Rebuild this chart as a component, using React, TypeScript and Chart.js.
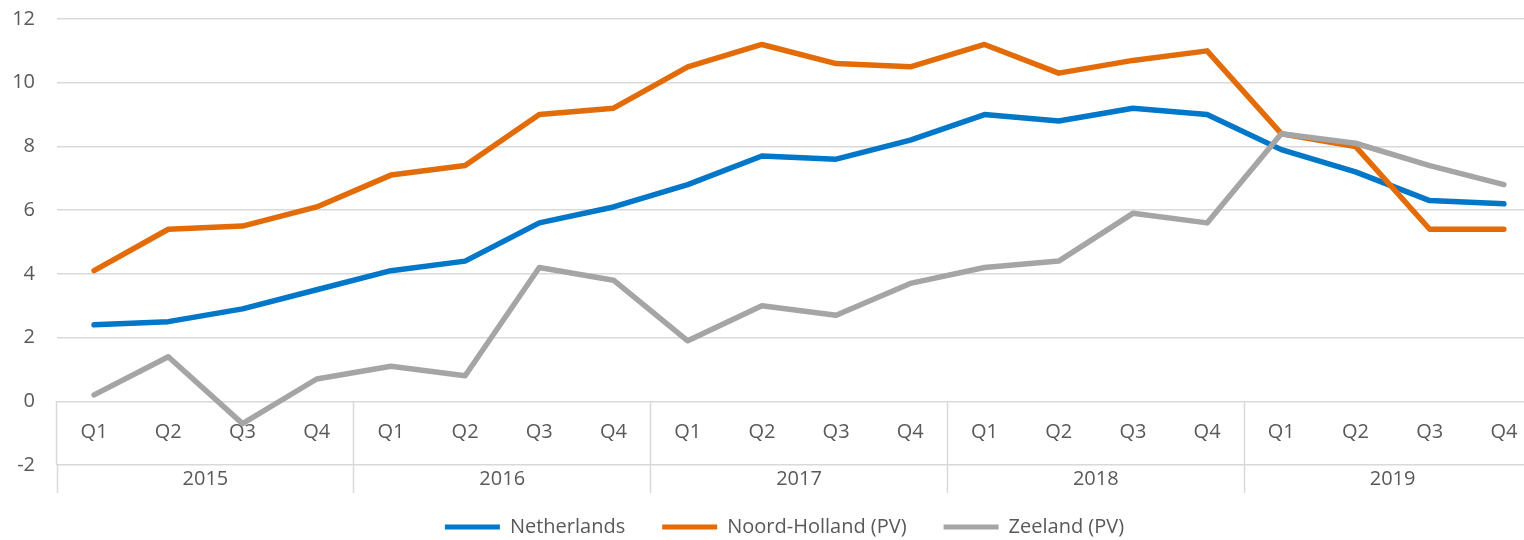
import React, { useEffect, useRef } from 'react';
import { Chart, registerables } from 'chart.js';

Chart.register(...registerables);

const quarters = [
  'Q1', 'Q2', 'Q3', 'Q4',
  'Q1', 'Q2', 'Q3', 'Q4',
  'Q1', 'Q2', 'Q3', 'Q4',
  'Q1', 'Q2', 'Q3', 'Q4',
  'Q1', 'Q2', 'Q3', 'Q4',
];
const years = ['2015', '2016', '2017', '2018', '2019'];

const netherlands = [2.4, 2.5, 2.9, 3.5, 4.1, 4.4, 5.6, 6.1, 6.8, 7.7, 7.6, 8.2, 9.0, 8.8, 9.2, 9.0, 7.9, 7.2, 6.3, 6.2];
const noordHolland = [4.1, 5.4, 5.5, 6.1, 7.1, 7.4, 9.0, 9.2, 10.5, 11.2, 10.6, 10.5, 11.2, 10.3, 10.7, 11.0, 8.4, 8.0, 5.4, 5.4];
const zeeland = [0.2, 1.4, -0.7, 0.7, 1.1, 0.8, 4.2, 3.8, 1.9, 3.0, 2.7, 3.7, 4.2, 4.4, 5.9, 5.6, 8.4, 8.1, 7.4, 6.8];

const seriesNames = ['Netherlands', 'Noord-Holland (PV)', 'Zeeland (PV)'];
const seriesColors = ['#0077C8', '#E36C09', '#A5A5A5'];

const yMin = -2;
const yMax = 12;
const yStep = 2;

const W = 1569;
const H = 547;
const FONT = "'Open Sans', sans-serif";
const TEXT = '#595959';
const GRID = '#d9d9d9';

export default function App() {
  const ref = useRef<HTMLCanvasElement | null>(null);

  useEffect(() => {
    if (!ref.current) return;
    const values = [netherlands, noordHolland, zeeland];
    const chart = new Chart(ref.current, {
      type: 'line',
      data: {
        labels: quarters,
        datasets: values.map((v, i) => ({
          label: seriesNames[i],
          data: v,
          borderColor: seriesColors[i],
          backgroundColor: seriesColors[i],
          borderWidth: 5.5,
          pointRadius: 0,
          pointHoverRadius: 0,
          tension: 0,
          fill: false,
          borderCapStyle: 'round' as const,
          borderJoinStyle: 'round' as const,
          order: 2 - i,
        })),
      },
      options: {
        responsive: false,
        animation: false,
        devicePixelRatio: 1,
        layout: { padding: { left: 0, right: 0, top: 19, bottom: 0 } },
        plugins: {
          tooltip: { enabled: false },
          legend: {
            position: 'bottom',
            labels: {
              boxWidth: 55,
              boxHeight: 5,
              padding: 37,
              color: TEXT,
              font: { family: FONT, size: 20 },
              sort: (a: any, b: any) => a.datasetIndex - b.datasetIndex,
              generateLabels: (c: any) =>
                Chart.defaults.plugins.legend.labels
                  .generateLabels(c)
                  .map((l: any) => ({ ...l, fillStyle: l.strokeStyle, lineWidth: 0 })),
            },
          },
        },
        scales: {
          x: {
            type: 'category',
            position: { y: 0 } as any,
            offset: true,
            grid: {
              display: true,
              drawOnChartArea: false,
              drawTicks: true,
              offset: true,
              tickLength: 64,
              tickWidth: 1.5,
              tickColor: (ctx: any) =>
                typeof ctx.index === 'number' && ctx.index % 4 === 0 ? GRID : 'rgba(0,0,0,0)',
            },
            border: { display: false },
            ticks: {
              padding: -45,
              color: TEXT,
              font: { family: FONT, size: 20 },
              maxRotation: 0,
              autoSkip: false,
            },
          },
          x2: {
            type: 'category',
            labels: years,
            position: 'bottom',
            offset: true,
            grid: {
              display: true,
              drawOnChartArea: false,
              drawTicks: true,
              offset: true,
              tickLength: 28,
              tickWidth: 1.5,
              tickColor: GRID,
              color: GRID,
            },
            border: { display: false },
            ticks: {
              mirror: true,
              padding: -26,
              color: TEXT,
              font: { family: FONT, size: 20 },
              maxRotation: 0,
              autoSkip: false,
            },
            afterFit: (s: any) => {
              s.height = 15;
            },
          },
          y: {
            min: yMin,
            max: yMax,
            ticks: {
              stepSize: yStep,
              padding: 22,
              color: TEXT,
              font: { family: FONT, size: 20 },
            },
            grid: { color: GRID, lineWidth: 1.5, drawTicks: false },
            border: { display: false },
            afterFit: (s: any) => {
              s.width = 57;
              s.paddingTop = 0;
              s.paddingBottom = 0;
            },
          },
          yRight: {
            type: 'linear',
            position: 'right',
            display: true,
            grid: { display: false, drawTicks: false },
            ticks: { display: false },
            border: { display: false },
            afterFit: (s: any) => {
              s.width = 28;
              s.paddingTop = 0;
              s.paddingBottom = 0;
            },
          },
        },
      } as any,
    });
    return () => chart.destroy();
  }, []);

  return (
    <div
      style={{
        position: 'fixed',
        left: 0,
        top: 0,
        width: 1524,
        height: 540,
        overflow: 'hidden',
        background: '#fff',
      }}
    >
      <canvas ref={ref} width={W} height={H} style={{ display: 'block', width: W, height: H }} />
    </div>
  );
}
